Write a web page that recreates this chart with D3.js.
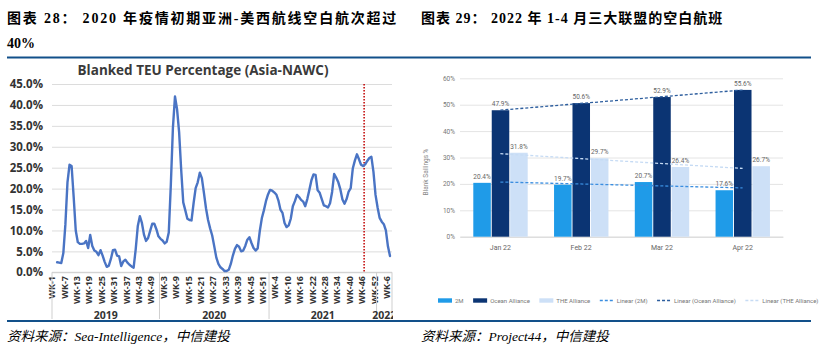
<!DOCTYPE html>
<html>
<head>
<meta charset="utf-8">
<script src="https://cdn.jsdelivr.net/npm/d3@7"></script>
<style>
body { margin: 0; background: #fff; }
</style>
</head>
<body>
<script>
// left chart: weekly blanked TEU share (%)
var years = ["2019", "2020", "2021", "2022"];
var weeksInYear = [52, 53, 52, 7];
var blanked = [
  null, null, 2.4, 2.3, 2.2, 4.6, 11.5, 21.5, 25.7, 25.4,
  18, 10, 7.2, 6.8, 6.8, 6.9, 7.5, 5.8, 8.9, 6.3,
  5.2, 4.9, 4.1, 5.3, 4.0, 2.5, 1.3, 1.6, 3.2, 5.3,
  5.4, 4.0, 3.8, 1.5, 2.6, 3.0, 2.3, 1.8, 1.4, 1.1,
  5.5, 11, 13.4, 11.8, 9.0, 7.5, 8.2, 9.9, 11.6, 11.6,
  10.3, 8.6, 8.0, 7.6, 6.9, 7.3, 9.5, 21, 34.5, 42,
  39, 33.5, 24.5, 16.7, 14.8, 12.8, 12.5, 12.4, 16.5, 20.1,
  21.5, 23.8, 22.5, 19.0, 15.3, 12.5, 10.5, 8.8, 6.2, 3.5,
  2.0, 1.2, 0.8, 0.3, 0.3, 0.6, 2.0, 4.0, 5.6, 6.5,
  6.1, 5.0, 5.2, 6.3, 7.8, 8.4, 7.0, 5.8, 5.2, 5.7,
  9.8, 12.9, 14.8, 17.0, 18.6, 19.7, 19.5, 19.1, 18.6, 17.2,
  15.0, 14.2, 11.8, 10.8, 11.2, 12.8, 15.8, 17.0, 18.5, 18.0,
  17.3, 16.9, 15.8, 17.5, 19.7, 22.0, 23.4, 23.3, 19.6, 19.0,
  17.5, 16.0, 15.8, 15.5, 16.5, 19.2, 23.5, 22.6, 21.5, 19.8,
  17.4, 16.4, 17.5, 19.3, 20.1, 24.8, 26.7, 28.2, 27.0, 25.7,
  25.4, 25.8, 26.6, 27.3, 27.6, 24.0, 18.5, 15.5, 13.0, 12.1,
  11.5, 10.0, 6.2, 3.9
];
var markerWeek = "2021-46";
var leftTicks = [0, 5, 10, 15, 20, 25, 30, 35, 40, 45];

// right chart: blank sailings by alliance, Jan-Apr 2022 (%)
var months = ["Jan 22", "Feb 22", "Mar 22", "Apr 22"];
var alliances = ["2M", "Ocean Alliance", "THE Alliance"];
var val2M = [20.4, 19.7, 20.7, 17.6];
var valOcean = [47.9, 50.6, 52.9, 55.6];
var valTHE = [31.8, 29.7, 26.4, 26.7];
var rightTicks = [0, 10, 20, 30, 40, 50, 60];

var W = 822, H = 353;
var svg = d3.select("body").append("svg").attr("width", W).attr("height", H);

// ---------- headers ----------
var headFont = "'Liberation Serif', 'Noto Sans CJK SC', serif";
svg.append("text").attr("x", 7).attr("y", 23)
  .style("font-family", headFont).style("font-weight", "bold").style("font-size", "14px")
  .style("letter-spacing", "1.8px")
  .text("图表 28： 2020 年疫情初期亚洲-美西航线空白航次超过");
svg.append("text").attr("x", 7).attr("y", 48)
  .style("font-family", headFont).style("font-weight", "bold").style("font-size", "14px")
  .text("40%");
svg.append("text").attr("x", 421).attr("y", 23)
  .style("font-family", headFont).style("font-weight", "bold").style("font-size", "14px")
  .style("letter-spacing", "1px")
  .text("图表 29： 2022 年 1-4 月三大联盟的空白航班");

svg.append("line").attr("x1", 7).attr("x2", 811).attr("y1", 57.5).attr("y2", 57.5)
  .attr("stroke", "#12508a").attr("stroke-width", 2);
svg.append("line").attr("x1", 7).attr("x2", 811).attr("y1", 321).attr("y2", 321)
  .attr("stroke", "#12508a").attr("stroke-width", 2);

svg.append("text").attr("x", 7).attr("y", 341)
  .style("font-family", headFont).style("font-style", "italic").style("font-size", "13.5px")
  .text("资料来源：Sea-Intelligence，中信建投");
svg.append("text").attr("x", 421).attr("y", 341)
  .style("font-family", headFont).style("font-style", "italic").style("font-size", "13.5px")
  .text("资料来源：Project44，中信建投");

// ---------- left chart ----------
var weeks = [];
years.forEach(function(y, yi) {
  for (var w = 1; w <= weeksInYear[yi]; w++) weeks.push({key: y + "-" + w, year: y, wk: w});
});

var lf = "'Open Sans', 'Liberation Sans', sans-serif";
var x = d3.scalePoint().domain(weeks.map(function(d){ return d.key; })).range([53, 390]);
var y = d3.scaleLinear().domain([0, 45]).range([272.3, 84]);

svg.append("defs").append("clipPath").attr("id", "leftClip")
  .append("rect").attr("x", 0).attr("y", 58).attr("width", 393).attr("height", 261);

var left = svg.append("g").attr("clip-path", "url(#leftClip)");

left.append("text").attr("x", 203).attr("y", 75).attr("text-anchor", "middle")
  .style("font-family", lf).style("font-weight", "bold").style("font-size", "13.5px")
  .attr("fill", "#3a3a3a").text("Blanked TEU Percentage (Asia-NAWC)");

var yAxis = d3.axisLeft(y).tickValues(leftTicks).tickSize(-340)
  .tickFormat(function(d){ return d3.format(".1f")(d) + "%"; });
var gy = left.append("g").attr("transform", "translate(52,0)").call(yAxis);
gy.select(".domain").remove();
gy.selectAll(".tick line").attr("stroke", "#dcdcdc");
gy.selectAll(".tick text").attr("x", -9).attr("fill", "#333")
  .style("font-family", lf).style("font-weight", "bold").style("font-size", "11.5px");

left.append("line").attr("x1", 52).attr("x2", 392).attr("y1", y(0)).attr("y2", y(0))
  .attr("stroke", "#cfcfcf");

// week tick labels every 6th week
left.selectAll(".wk").data(weeks.filter(function(d, i){ return i % 6 === 0; }))
  .enter().append("text")
  .attr("transform", function(d){ return "translate(" + (x(d.key) - 1) + ",276) rotate(-90)"; })
  .attr("text-anchor", "end").attr("dy", "0.35em")
  .style("font-family", lf).style("font-weight", "bold").style("font-size", "9px")
  .attr("fill", "#333").text(function(d){ return "WK-" + d.wk; });

// year groups
var bounds = [52];
var pos = 0;
weeksInYear.forEach(function(n, yi) {
  pos += n;
  if (yi < weeksInYear.length - 1)
    bounds.push((x(weeks[pos - 1].key) + x(weeks[pos].key)) / 2);
});
bounds.push(392);
bounds.forEach(function(b) {
  left.append("line").attr("x1", b).attr("x2", b).attr("y1", y(0)).attr("y2", 320)
    .attr("stroke", "#cfcfcf");
});
years.forEach(function(yr, yi) {
  left.append("text").attr("x", (bounds[yi] + bounds[yi + 1]) / 2).attr("y", 319)
    .attr("text-anchor", "middle")
    .style("font-family", lf).style("font-weight", "bold").style("font-size", "10.5px")
    .attr("fill", "#333").text(yr);
});

// marker line
left.append("line").attr("x1", x(markerWeek) + 1).attr("x2", x(markerWeek) + 1)
  .attr("y1", y(45)).attr("y2", y(0))
  .attr("stroke", "#c00000").attr("stroke-width", 1.5).attr("stroke-dasharray", "1.5,1.5");

var line = d3.line()
  .defined(function(d){ return d != null; })
  .x(function(d, i){ return x(weeks[i].key); })
  .y(function(d){ return y(d); });
left.append("path").attr("d", line(blanked))
  .attr("fill", "none").attr("stroke", "#4a74c4").attr("stroke-width", 2.4)
  .attr("stroke-linejoin", "round").attr("stroke-linecap", "round");

// ---------- right chart ----------
var rf = "Roboto, 'Liberation Sans', sans-serif";
var series = [
  {name: "2M", values: val2M, color: "#1f9be8", trend: "#3b8ee0"},
  {name: "Ocean Alliance", values: valOcean, color: "#0b3473", trend: "#2d5e9e"},
  {name: "THE Alliance", values: valTHE, color: "#cde0f7", trend: "#c6dbf4"}
];

var yR = d3.scaleLinear().domain([0, 60]).range([236.7, 78.3]);
var x0 = d3.scaleBand().domain(months).range([460, 783]);
var x1 = d3.scaleBand().domain(alliances).range([13.3, 67.7]).paddingInner(0.05);

var right = svg.append("g");

var yAxisR = d3.axisLeft(yR).tickValues(rightTicks).tickSize(-323)
  .tickFormat(function(d){ return d + "%"; });
var gyr = right.append("g").attr("transform", "translate(460,0)").call(yAxisR);
gyr.select(".domain").remove();
gyr.selectAll(".tick line").attr("stroke", "#e4e4e4");
gyr.selectAll(".tick text").attr("x", -5).attr("fill", "#777")
  .style("font-family", rf).style("font-size", "6.5px");

right.append("text").attr("transform", "translate(428,172) rotate(-90)")
  .attr("text-anchor", "middle")
  .style("font-family", rf).style("font-size", "6.5px").attr("fill", "#888")
  .text("Blank Sailings %");

var xAxisR = d3.axisBottom(x0).tickSize(0).tickPadding(8);
var gxr = right.append("g").attr("transform", "translate(0," + yR(0) + ")").call(xAxisR);
gxr.select(".domain").attr("stroke", "#d8d8d8");
gxr.selectAll(".tick text").attr("fill", "#666")
  .style("font-family", rf).style("font-size", "7px");

series.forEach(function(s) {
  var g = right.append("g");
  g.selectAll("rect").data(s.values).enter().append("rect")
    .attr("x", function(d, i){ return x0(months[i]) + x1(s.name); })
    .attr("y", function(d){ return yR(d); })
    .attr("width", x1.bandwidth())
    .attr("height", function(d){ return yR(0) - yR(d); })
    .attr("fill", s.color);
  g.selectAll("text").data(s.values).enter().append("text")
    .attr("x", function(d, i){ return x0(months[i]) + x1(s.name) + x1.bandwidth() / 2; })
    .attr("y", function(d){ return yR(d) - 4; })
    .attr("text-anchor", "middle")
    .style("font-family", rf).style("font-size", "6.5px").attr("fill", "#666")
    .text(function(d){ return d.toFixed(1) + "%"; });
});

// linear trend lines (least squares over month index)
series.forEach(function(s) {
  var n = s.values.length;
  var mx = (n - 1) / 2, my = d3.mean(s.values);
  var num = d3.sum(s.values, function(v, i){ return (i - mx) * (v - my); });
  var den = d3.sum(s.values, function(v, i){ return (i - mx) * (i - mx); });
  var slope = num / den;
  var fit = function(i){ return my + slope * (i - mx); };
  var cx = function(i){ return x0(months[i]) + x0.bandwidth() / 2; };
  right.append("line")
    .attr("x1", cx(0)).attr("y1", yR(fit(0)))
    .attr("x2", cx(n - 1)).attr("y2", yR(fit(n - 1)))
    .attr("stroke", s.trend).attr("stroke-width", 1.3).attr("stroke-dasharray", "3,2");
});

// legend
var legendItems = series.map(function(s){ return {label: s.name, color: s.color, type: "box"}; })
  .concat(series.map(function(s){ return {label: "Linear (" + s.name + ")", color: s.trend, type: "dash"}; }));
var lx = 438, ly = 300.5;
legendItems.forEach(function(it) {
  if (it.type === "box") {
    right.append("rect").attr("x", lx).attr("y", ly - 2.2).attr("width", 14).attr("height", 4.4)
      .attr("fill", it.color);
  } else {
    right.append("line").attr("x1", lx).attr("x2", lx + 14).attr("y1", ly).attr("y2", ly)
      .attr("stroke", it.color).attr("stroke-width", 1.3).attr("stroke-dasharray", "3,2");
  }
  var t = right.append("text").attr("x", lx + 17).attr("y", ly).attr("dy", "0.35em")
    .style("font-family", rf).style("font-size", "6px").attr("fill", "#777").text(it.label);
  lx += 17 + t.node().getComputedTextLength() + 9.5;
});
</script>
</body>
</html>
